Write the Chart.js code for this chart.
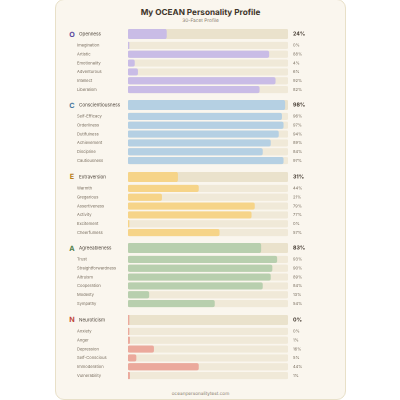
<!DOCTYPE html>
<html>
<head>
<meta charset="utf-8">
<script src="https://cdn.jsdelivr.net/npm/chart.js@4"></script>
<style>
    html, body { margin: 0; padding: 0; background: #fff; }
    body { width: 400px; height: 400px; overflow: hidden; position: relative; font-family: Inter, sans-serif; text-rendering: geometricPrecision; }
    #card { position: absolute; left: 55px; top: -1px; width: 289px; height: 399px; background: #faf6ee; border: 1px solid #e8e0c8; border-radius: 9px; }
    #title { position: absolute; left: 0; width: 100%; top: 6.5px; text-align: center; font-size: 8.2px; font-weight: 700; color: #3f352b; }
    #subtitle { position: absolute; left: 0; width: 100%; top: 18px; text-align: center; font-size: 4.8px; color: #8a7f70; }
    #footer { position: absolute; left: 0; width: 100%; top: 390.5px; text-align: center; font-size: 4.7px; color: #8a7f70; }
    .letter { position: absolute; left: 68px; font-size: 7.2px; font-weight: 700; width: 8px; text-align: center; }
    canvas { position: absolute; }
</style>
</head>
<body>
<div id="card">
    <div id="title">My OCEAN Personality Profile</div>
    <div id="subtitle">30-Facet Profile</div>
    <div id="footer">oceanpersonalitytest.com</div>
</div>
<script>
// Big five scores
const traits = ['Openness', 'Conscientiousness', 'Extraversion', 'Agreeableness', 'Neuroticism'];
const letters = ['O', 'C', 'E', 'A', 'N'];
const traitScores = [24, 98, 31, 83, 0];

// Facets per trait
const opennessFacets = ['Imagination', 'Artistic', 'Emotionality', 'Adventurous', 'Intellect', 'Liberalism'];
const opennessScores = [0, 88, 4, 6, 92, 82];
const conscientiousnessFacets = ['Self-Efficacy', 'Orderliness', 'Dutifulness', 'Achievement', 'Discipline', 'Cautiousness'];
const conscientiousnessScores = [96, 97, 94, 89, 84, 97];
const extraversionFacets = ['Warmth', 'Gregarious', 'Assertiveness', 'Activity', 'Excitement', 'Cheerfulness'];
const extraversionScores = [44, 21, 79, 77, 0, 57];
const agreeablenessFacets = ['Trust', 'Straightforwardness', 'Altruism', 'Cooperation', 'Modesty', 'Sympathy'];
const agreeablenessScores = [93, 90, 89, 84, 13, 54];
const neuroticismFacets = ['Anxiety', 'Anger', 'Depression', 'Self-Conscious', 'Immoderation', 'Vulnerability'];
const neuroticismScores = [0, 1, 16, 5, 44, 1];

const facets = [opennessFacets, conscientiousnessFacets, extraversionFacets, agreeablenessFacets, neuroticismFacets];
const facetScores = [opennessScores, conscientiousnessScores, extraversionScores, agreeablenessScores, neuroticismScores];

const fillColors = ['#c9bce6', '#b5d0e3', '#f6d488', '#b8cfae', '#eba99c'];
const letterColors = ['#5b4a9e', '#4a7ba0', '#b8801e', '#4f7f4a', '#c0483c'];

// The axes reserve room for half a label above and below, which would squeeze short rows
function fijarAncho(axis, width) {
    axis.width = width;
    axis.paddingTop = 0;
    axis.paddingBottom = 0;
}

function crearBarras(left, top, height, labels, values, opts) {
    const canvas = document.createElement('canvas');
    canvas.style.left = left + 'px';
    canvas.style.top = top + 'px';
    canvas.width = 345 - left;
    canvas.height = height;
    canvas.style.width = (345 - left) + 'px';
    canvas.style.height = height + 'px';
    document.body.appendChild(canvas);

    new Chart(canvas, {
        type: 'bar',
        data: {
            labels: labels,
            datasets: [
                {
                    data: values,
                    backgroundColor: opts.fill,
                    borderRadius: opts.radius,
                    borderSkipped: false,
                    barThickness: opts.thickness,
                    minBarLength: 1,
                    order: 1
                },
                {
                    data: values.map(() => 100),
                    backgroundColor: opts.track,
                    borderRadius: opts.radius,
                    borderSkipped: false,
                    barThickness: opts.thickness,
                    order: 2
                }
            ]
        },
        options: {
            indexAxis: 'y',
            responsive: false,
            animation: false,
            events: [],
            // Text this small only stays readable when drawn larger and scaled down
            devicePixelRatio: 2,
            layout: { padding: 0 },
            plugins: { legend: { display: false }, tooltip: { enabled: false } },
            datasets: { bar: { grouped: false } },
            scales: {
                x: { display: false, min: 0, max: 100 },
                y: {
                    position: 'left',
                    afterFit: (axis) => fijarAncho(axis, 128 - left),
                    grid: { display: false, drawTicks: false },
                    border: { display: false },
                    ticks: {
                        crossAlign: 'far',
                        padding: 0,
                        autoSkip: false,
                        color: opts.labelColor,
                        font: { family: 'Inter', size: opts.labelSize }
                    }
                },
                y2: {
                    type: 'category',
                    position: 'right',
                    offset: true,
                    labels: values.map((v) => v + '%'),
                    afterFit: (axis) => fijarAncho(axis, 57),
                    grid: { display: false, drawTicks: false },
                    border: { display: false },
                    ticks: {
                        padding: 5,
                        autoSkip: false,
                        color: opts.valueColor,
                        font: { family: 'Inter', size: opts.valueSize, weight: opts.valueWeight }
                    }
                }
            }
        }
    });
}

function initPerfil() {
    traits.forEach((trait, i) => {
        const y = 29 + i * 71.4;

        const letter = document.createElement('div');
        letter.className = 'letter';
        letter.textContent = letters[i];
        letter.style.top = (y + 0.5) + 'px';
        letter.style.color = letterColors[i];
        document.body.appendChild(letter);

        crearBarras(79, Math.round(y), 10, [trait], [traitScores[i]], {
            fill: fillColors[i], track: '#eae2cc', radius: 2.5, thickness: 10,
            labelColor: '#4a4036', labelSize: 4.6,
            valueColor: '#3f352b', valueSize: 5.3, valueWeight: '700'
        });
        crearBarras(77, Math.round(y + 12), 53, facets[i], facetScores[i], {
            fill: fillColors[i], track: '#f0e9d8', radius: 2, thickness: 6.5,
            labelColor: '#7a6f60', labelSize: 4.1,
            valueColor: '#7a6f60', valueSize: 4.1, valueWeight: '400'
        });
    });
}

initPerfil();
</script>
</body>
</html>
